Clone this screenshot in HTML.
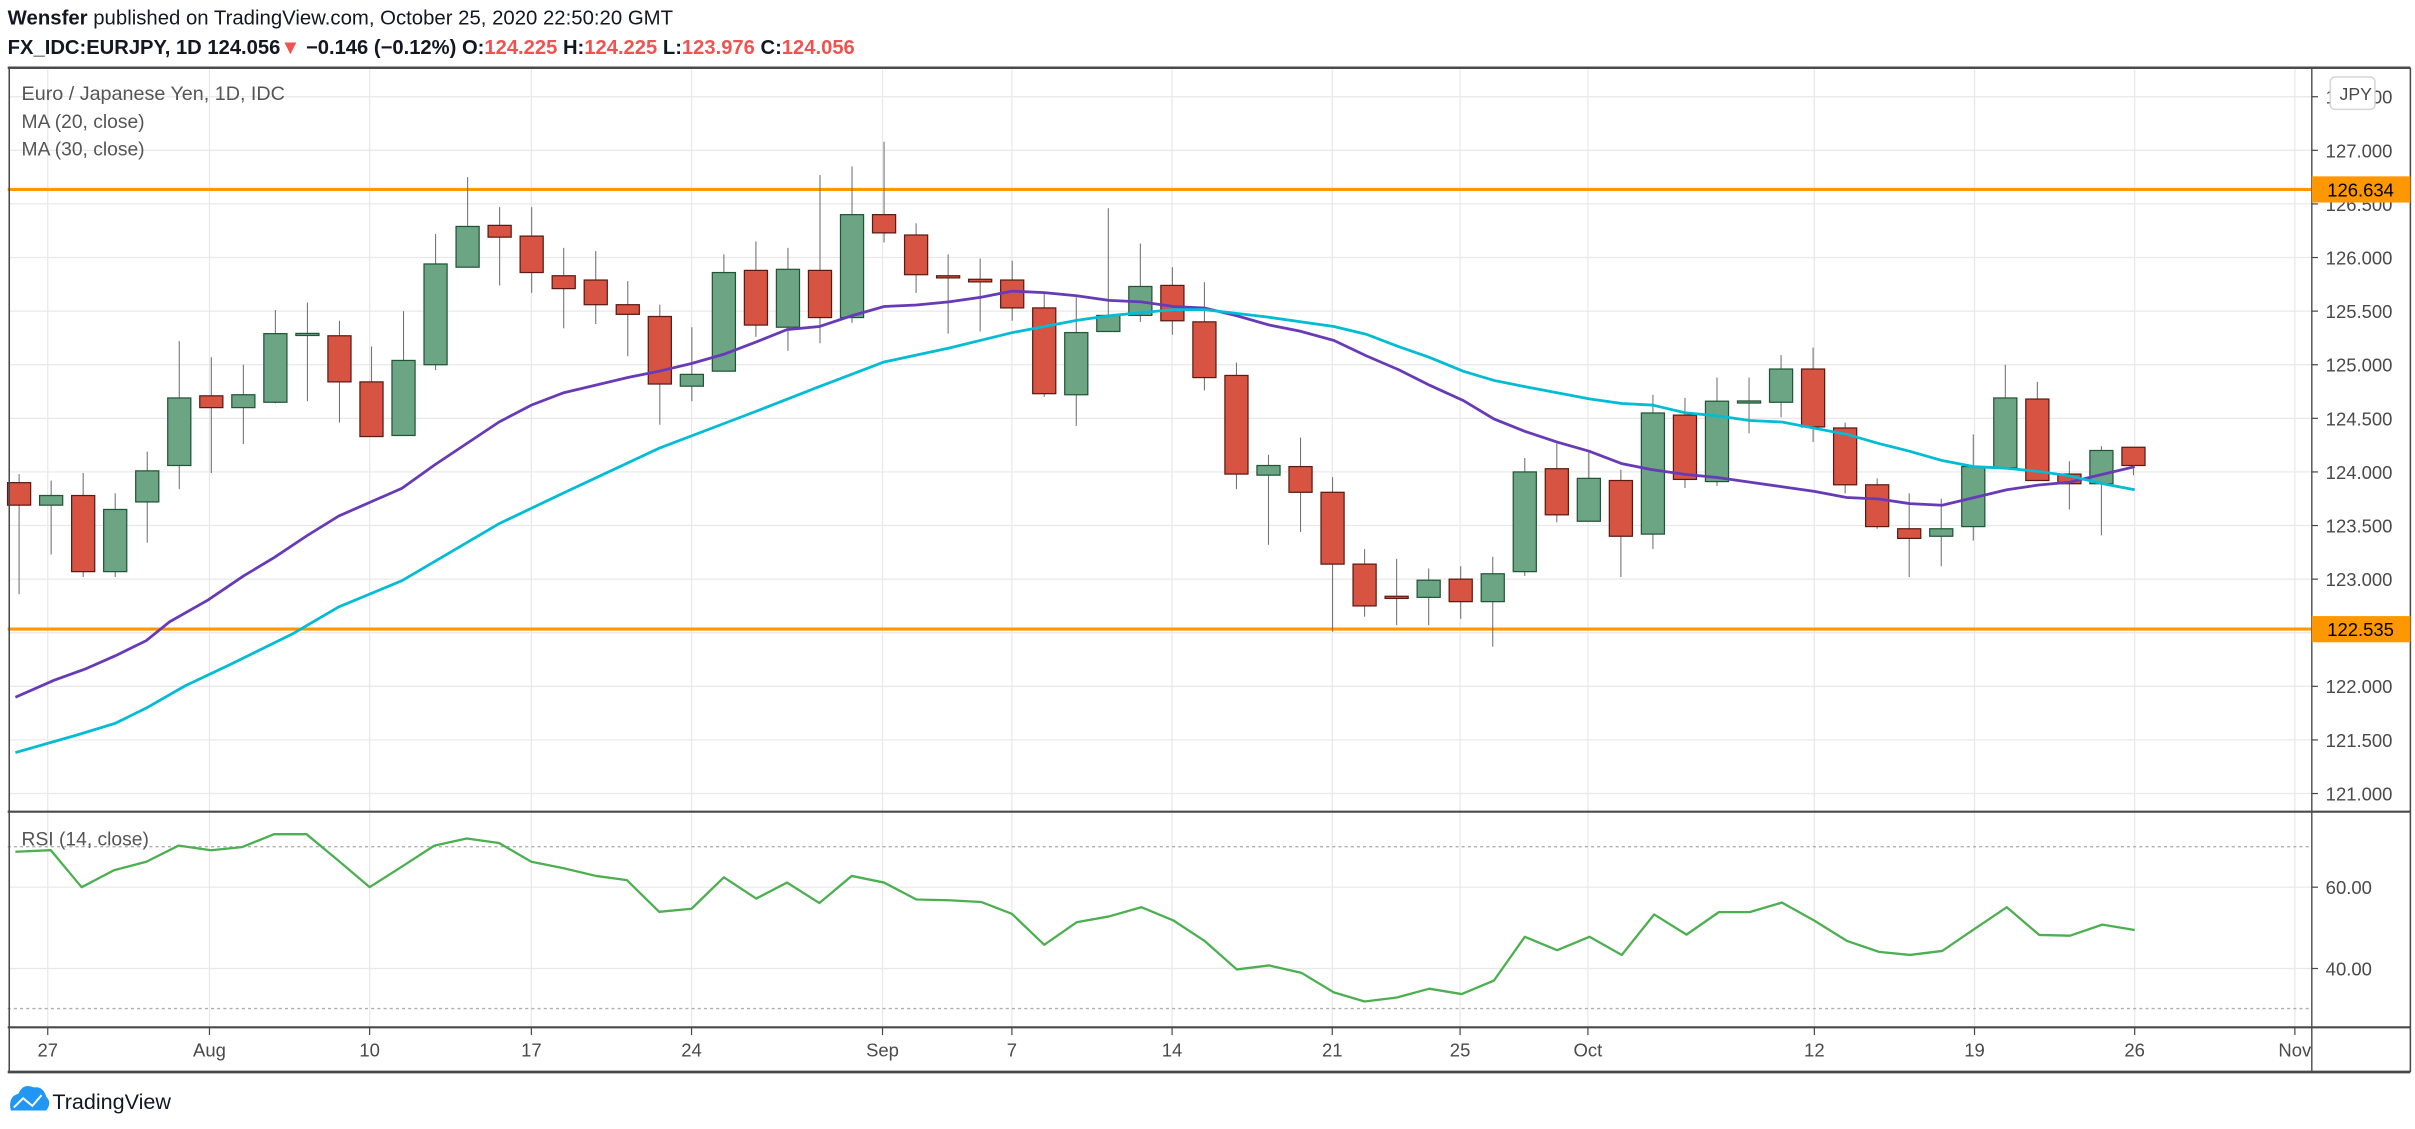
<!DOCTYPE html>
<html><head><meta charset="utf-8"><style>
html,body{margin:0;padding:0;background:#fff;}
svg{display:block;}
text{font-family:"Liberation Sans",sans-serif;}
</style></head><body>
<svg id="s" xmlns="http://www.w3.org/2000/svg" width="2415" height="1129" viewBox="0 0 1568 733" preserveAspectRatio="none">
<rect width="1568" height="733" fill="#fff"/>
<g id="grid" stroke="#e8e8e8" stroke-width="0.8"></g>
<line x1="5" y1="123" x2="1501" y2="123" stroke="#ff9800" stroke-width="2"/>
<line x1="5" y1="408.4" x2="1501" y2="408.4" stroke="#ff9800" stroke-width="2"/>
<!-- RSI dashed bands -->
<line x1="5" y1="549.7" x2="1501" y2="549.7" stroke="#b0b0b0" stroke-width="0.9" stroke-dasharray="2,2"/>
<line x1="5" y1="654.8" x2="1501" y2="654.8" stroke="#b0b0b0" stroke-width="0.9" stroke-dasharray="2,2"/>
<g id="candles"></g>
<polyline fill="none" stroke="#673ab7" stroke-width="1.8" points="10,452.7 35,441.7 55,434.5 75,425.7 95,415.9 110,403.8 135,389.6 158,374 178,362 199,348 220,335 261,317 282,302 324,274 345,263 366,255 408,245 428,241 449,236 470,230 491,222 511,214 532,212 553,205 574,199 595,198 616,196 637,193 657,189 678,190 699,192 720,195 741,196 762,199 782,200 803,205 824,211 844,215 866,221 887,231 908,240 928,250 950,260 970,272 990,280 1011,287 1032,293 1053,301 1073,305 1094,308 1115,310 1136,313 1157,316 1178,319 1199,323 1220,324 1240,327 1261,328 1282,323 1303,318 1323,315 1344,313 1365,308 1386,303"/>
<polyline fill="none" stroke="#00bcd4" stroke-width="1.8" points="10,488.6 50,477.2 75,469.5 95,459.7 120,445.4 150,431.2 190,411.5 220,394 261,377 324,340 366,320 428,291 449,283 491,267 532,251 574,235 616,226 657,216 699,208 720,205 762,201 782,201 824,206 866,212 887,217 908,225 928,232 950,241 970,247 990,251 1011,255 1032,259 1053,262 1073,263 1094,268 1115,270 1136,273 1157,274 1178,278 1199,282 1220,288 1240,293 1261,299 1282,303 1303,304 1323,306 1344,309 1365,314 1386,318"/>
<polyline fill="none" stroke="#4caf50" stroke-width="1.5" stroke-linejoin="round" points="10,553 33,552 53,576 74,565 95,559.5 116,549 137,552 157,550 178,541.6 199,541.6 220,559 240,576 261,562.6 282,549 303,544.4 324,547.3 345,559.5 366,563.7 387,568.7 407,571.4 428,592 449,590 470,569.6 491,583.4 511,573 532,586.3 553,568.7 574,573 595,584 616,584.5 637,585.6 657,593.3 678,613.4 699,598.8 720,595 741,589 762,597.7 782,610.8 803,629.4 824,626.8 845,631.6 866,644.3 886,650.2 907,647.6 928,641.9 949,645.4 970,636.6 990,608.2 1011,616.9 1032,608.2 1053,620 1074,593.7 1095,606.8 1116,592.2 1136,592.2 1157,586 1178,597.7 1199,610.8 1220,618 1240,620 1261,617.4 1282,603.1 1303,589 1324,607 1344,607.5 1365,600.3 1386,603.8"/>
<!-- frame -->
<g stroke="#4a4a4a" fill="none">
<line x1="5" y1="44" x2="1565" y2="44" stroke-width="1.6"/>
<line x1="6" y1="44" x2="6" y2="696" stroke-width="1"/>
<line x1="1501" y1="44" x2="1501" y2="696" stroke-width="0.9"/>
<line x1="5" y1="527" x2="1565" y2="527" stroke-width="1.4"/>
<line x1="5" y1="667" x2="1565" y2="667" stroke-width="1.4"/>
<line x1="5" y1="696" x2="1565" y2="696" stroke-width="1.8"/>
<line x1="1565" y1="44" x2="1565" y2="696" stroke-width="1"/>
</g>
<g id="ticks" stroke="#4a4a4a" stroke-width="0.8"></g>
<g id="ylab" font-size="12" fill="#4a4a4a"></g>
<g id="xlab" font-size="12" fill="#4a4a4a" text-anchor="middle"></g>
<!-- orange labels -->
<rect x="1501" y="114.5" width="64" height="17" fill="#ff9800"/>
<text x="1511" y="127.5" font-size="12" fill="#000">126.634</text>
<rect x="1501" y="400" width="64" height="17" fill="#ff9800"/>
<text x="1511" y="413" font-size="12" fill="#000">122.535</text>
<rect x="1513" y="50" width="29" height="21" rx="3" fill="#fff" stroke="#d6d6d6"/>
<text x="1519" y="65" font-size="11.5" fill="#4a4a4a">JPY</text>
<!-- header -->
<text x="5" y="16" font-size="13" fill="#131722" textLength="432" lengthAdjust="spacingAndGlyphs"><tspan font-weight="bold">Wensfer</tspan> published on TradingView.com, October 25, 2020 22:50:20 GMT</text>
<text x="5" y="35" font-size="13" font-weight="bold" fill="#131722" textLength="550" lengthAdjust="spacingAndGlyphs">FX_IDC:EURJPY, 1D 124.056<tspan fill="#ef5350">▼</tspan> −0.146 (−0.12%) O:<tspan fill="#ef5350">124.225</tspan> H:<tspan fill="#ef5350">124.225</tspan> L:<tspan fill="#ef5350">123.976</tspan> C:<tspan fill="#ef5350">124.056</tspan></text>
<text x="14" y="65" font-size="12.5" fill="#555" textLength="171" lengthAdjust="spacingAndGlyphs">Euro / Japanese Yen, 1D, IDC</text>
<text x="14" y="83" font-size="12.5" fill="#555">MA (20, close)</text>
<text x="14" y="101" font-size="12.5" fill="#555">MA (30, close)</text>
<text x="14" y="549" font-size="12.5" fill="#555">RSI (14, close)</text>
<!-- logo -->
<path d="M7,721 Q5,712 12,710 Q15,703 22,706 Q28,705 30,712 Q34,716 30,721 Z" fill="#2196f3"/>
<polyline points="9,719 15,713 21,718 27,711" fill="none" stroke="#fff" stroke-width="1.3"/>
<text x="34" y="720" font-size="14" fill="#131722">TradingView</text>
<script>
var NS="http://www.w3.org/2000/svg";
function el(p,t,a,txt){var e=document.createElementNS(NS,t);for(var k in a)e.setAttribute(k,a[k]);if(txt)e.textContent=txt;document.getElementById(p).appendChild(e);return e;}
function Y(p){return 97.6+(127-p)*69.6;}
// grid horizontal
for(var p=121;p<=127.5;p+=0.5){el("grid","line",{x1:6,x2:1501,y1:Y(p),y2:Y(p)});}
el("grid","line",{x1:6,x2:1501,y1:576,y2:576});
el("grid","line",{x1:6,x2:1501,y1:628.8,y2:628.8});
var xs=[[31,"27"],[136,"Aug"],[240,"10"],[345,"17"],[449,"24"],[573,"Sep"],[657,"7"],[761,"14"],[865,"21"],[948,"25"],[1031,"Oct"],[1178,"12"],[1282,"19"],[1386,"26"],[1490,"Nov"]];
xs.forEach(function(a){el("grid","line",{x1:a[0],x2:a[0],y1:45,y2:667});el("ticks","line",{x1:a[0],x2:a[0],y1:667,y2:672});el("xlab","text",{x:a[0],y:686},a[1]);});
var yl=[[127.5,"127.500"],[127,"127.000"],[126.5,"126.500"],[126,"126.000"],[125.5,"125.500"],[125,"125.000"],[124.5,"124.500"],[124,"124.000"],[123.5,"123.500"],[123,"123.000"],[122.5,"122.500"],[122,"122.000"],[121.5,"121.500"],[121,"121.000"]];
yl.forEach(function(a){var y=Y(a[0]);el("ticks","line",{x1:1501,x2:1505,y1:y,y2:y});el("ylab","text",{x:1510,y:y+4.5},a[1]);});
[[576,"60.00"],[628.8,"40.00"]].forEach(function(a){el("ticks","line",{x1:1501,x2:1505,y1:a[0],y2:a[0]});el("ylab","text",{x:1510,y:a[0]+4.5},a[1]);});
var D=[[123.90,123.98,122.86,123.69],[123.69,123.92,123.23,123.78],[123.78,123.99,123.02,123.07],[123.07,123.80,123.02,123.65],[123.72,124.19,123.34,124.01],[124.06,125.22,123.84,124.69],[124.71,125.07,123.99,124.60],[124.60,125.00,124.26,124.72],[124.65,125.51,124.64,125.29],[125.28,125.58,124.66,125.285],[125.27,125.41,124.46,124.84],[124.84,125.17,124.33,124.33],[124.34,125.50,124.34,125.04],[125.00,126.22,124.95,125.94],[125.91,126.75,125.91,126.29],[126.30,126.47,125.74,126.19],[126.20,126.47,125.67,125.86],[125.83,126.09,125.34,125.71],[125.79,126.06,125.38,125.56],[125.56,125.78,125.08,125.47],[125.45,125.56,124.44,124.82],[124.80,125.35,124.66,124.91],[124.94,126.03,124.94,125.86],[125.88,126.15,125.26,125.37],[125.35,126.09,125.13,125.89],[125.88,126.77,125.20,125.44],[125.44,126.85,125.39,126.40],[126.40,127.08,126.14,126.23],[126.21,126.32,125.67,125.84],[125.83,126.03,125.29,125.81],[125.79,125.99,125.31,125.78],[125.79,125.97,125.41,125.53],[125.53,125.66,124.70,124.73],[124.72,125.63,124.43,125.30],[125.31,126.46,125.31,125.46],[125.46,126.13,125.40,125.73],[125.74,125.91,125.28,125.41],[125.40,125.77,124.76,124.88],[124.90,125.02,123.84,123.98],[123.97,124.16,123.32,124.06],[124.05,124.32,123.44,123.81],[123.81,123.95,122.51,123.14],[123.14,123.28,122.65,122.75],[122.84,123.19,122.57,122.82],[122.83,123.10,122.57,122.99],[123.00,123.12,122.63,122.79],[122.79,123.21,122.37,123.05],[123.07,124.13,123.03,124.00],[124.03,124.27,123.53,123.60],[123.54,124.18,123.54,123.94],[123.92,124.02,123.02,123.40],[123.42,124.72,123.28,124.55],[124.53,124.69,123.85,123.93],[123.91,124.88,123.87,124.66],[124.65,124.88,124.36,124.655],[124.65,125.09,124.51,124.96],[124.96,125.16,124.28,124.42],[124.41,124.46,123.80,123.88],[123.88,123.94,123.47,123.49],[123.47,123.80,123.02,123.38],[123.40,123.75,123.12,123.47],[123.49,124.35,123.36,124.05],[124.04,125.00,124.04,124.69],[124.68,124.84,123.92,123.92],[123.98,124.10,123.65,123.89],[123.89,124.24,123.41,124.20],[124.23,124.23,123.97,124.06]];
D.forEach(function(d,i){var x=12.4+20.8*i,o=d[0],h=d[1],l=d[2],c=d[3];var up=c>=o;
el("candles","line",{x1:x,x2:x,y1:Y(h),y2:Y(l),stroke:"#737375","stroke-width":0.7});
var t=Y(Math.max(o,c)),b=Y(Math.min(o,c));if(b-t<1){t-=0.5;b+=0.5;}
el("candles","rect",{x:x-7.5,y:t,width:15,height:b-t,fill:up?"#6ba583":"#d75442",stroke:up?"#225437":"#5b1a13","stroke-width":0.8});});
</script>
</svg>
</body></html>
